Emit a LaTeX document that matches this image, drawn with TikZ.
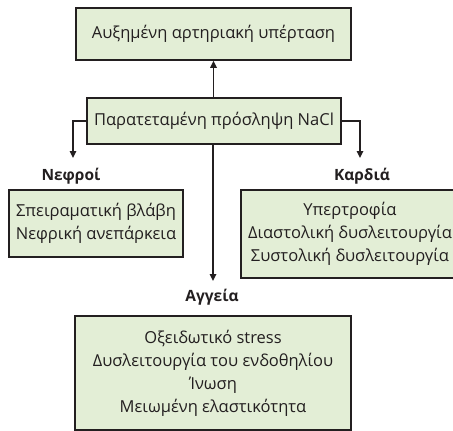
\documentclass[tikz,border=0pt]{standalone}
\usepackage{fontspec}
\setmainfont{Open Sans}
\usetikzlibrary{arrows.meta}
\definecolor{boxfill}{HTML}{E3EED6}
\definecolor{ink}{HTML}{231F20}
\begin{document}
\begin{tikzpicture}[x=1pt,y=-1pt,
  box/.style={draw=ink,fill=boxfill,line width=1.6pt,rectangle,inner sep=0pt,
    align=center,font=\fontsize{16.5}{23}\selectfont,text=ink},
  lbl/.style={font=\fontsize{15.5}{18}\selectfont\bfseries,text=ink},
  arr/.style={draw=ink,line width=1.6pt,-{Triangle[length=7pt,width=6.5pt]}}]
\clip (0,0) rectangle (453,431);
\fill[white] (0,0) rectangle (453,431);
\node[box,minimum width=275pt,minimum height=52pt] (top) at (213.5,34) {Αυξημένη αρτηριακή υπέρταση};
\node[box,minimum width=254pt,minimum height=46pt] (nacl) at (214,121) {Παρατεταμένη πρόσληψη NaCl};
\node[box,minimum width=174pt,minimum height=67pt] (left) at (96,223.5) {Σπειραματική βλάβη\\Νεφρική ανεπάρκεια};
\node[box,minimum width=218pt,minimum height=88pt] (right) at (350,234) {Υπερτροφία\\Διαστολική δυσλειτουργία\\Συστολική δυσλειτουργία};
\node[box,minimum width=276pt,minimum height=114pt] (bot) at (213,373) {Οξειδωτικό stress\\Δυσλειτουργία του ενδοθηλίου\\Ίνωση\\Μειωμένη ελαστικότητα};
\node[lbl] (lk) at (71,176) {Νεφροί};
\node[lbl] (lh) at (362,176) {Καρδιά};
\node[lbl] (lv) at (212,297) {Αγγεία};
\coordinate (lt) at (73,158);
\coordinate (rt) at (360,158);
\coordinate (ct) at (213,281);
\draw[arr] (nacl.north -| top.south) -- (top.south);
\draw[arr] (nacl.west) -| (lt);
\draw[arr] (nacl.east) -| (rt);
\draw[arr] (nacl.south -| ct) -- (ct);
\end{tikzpicture}
\end{document}
